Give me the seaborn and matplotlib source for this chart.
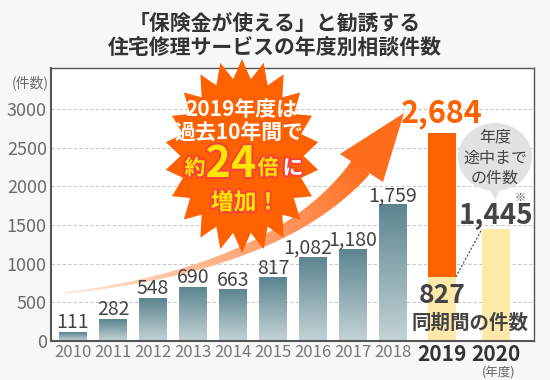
import numpy as np
import pandas as pd
import matplotlib
matplotlib.use('Agg')
import matplotlib.pyplot as plt
import matplotlib.patheffects as pe
from matplotlib.patches import Polygon, Ellipse
from matplotlib.collections import PolyCollection
from matplotlib.colors import LinearSegmentedColormap, to_rgb
import seaborn as sns

# データ
years = ['2010', '2011', '2012', '2013', '2014', '2015', '2016', '2017', '2018', '2019', '2020']
counts = [111, 282, 548, 690, 663, 817, 1082, 1180, 1759, 2684, 1445]
kinds = ['past'] * 9 + ['2019', '2020']
same_period_2019 = 827
yticks = [0, 500, 1000, 1500, 2000, 2500, 3000]

# レイアウト（棒の位置、2019・2020は少し間隔を空ける）
x_pos = [0, 1, 2, 3, 4, 5, 6, 7, 8, 9.22, 10.57]
label_dx = [0, 0, 0, 0, 0, 0, -3.5, 0, 0]  # 1,082 と 1,180 が重ならないよう少しずらす

W, H = 550, 380
sns.set_theme(style='white')
plt.rcParams['font.family'] = ['Noto Sans CJK JP', 'DejaVu Sans']
NUM = ['Liberation Sans Narrow', 'Noto Sans CJK JP']


def fpx(x, y):
    """画像のピクセル座標 -> figure座標"""
    return (x / W, 1 - y / H)


fig = plt.figure(figsize=(W / 100, H / 100), dpi=100, facecolor='#f7f7f7')
ax = fig.add_axes([51 / W, 1 - 341 / H, 483 / W, 273 / H])
ax.set_facecolor('white')

df = pd.DataFrame({'pos': x_pos, 'count': counts, 'kind': kinds})
df = pd.concat([df, pd.DataFrame({'pos': [x_pos[9]], 'count': [same_period_2019], 'kind': ['same']})],
               ignore_index=True)
palette = {'past': '#7d9ea5', '2019': '#ff6000', '2020': '#fde9a8', 'same': '#fde9a8'}
sns.barplot(data=df, x='pos', y='count', hue='kind', hue_order=['past', '2019', '2020', 'same'],
            palette=palette, native_scale=True, width=0.7, dodge=False, legend=False,
            saturation=1, linewidth=0, ax=ax, zorder=2)

# 過去の棒はグラデーション
cmap = LinearSegmentedColormap.from_list('g', ['#c4d3d6', '#5c8590'])
grad = np.linspace(1, 0, 256).reshape(-1, 1)
for p in ax.containers[0]:
    x0, y0 = p.get_x(), p.get_y()
    ax.imshow(grad, cmap=cmap, extent=[x0, x0 + p.get_width(), y0, y0 + p.get_height()],
              aspect='auto', zorder=2.1)
    p.set_facecolor('none')

ax.set_xlim(-0.55, 11.525)
ax.set_ylim(0, 3530)
ax.set_yticks(yticks)
ax.yaxis.grid(True, color='#c9c9c9', linestyle=(0, (3, 2)), linewidth=0.8)
ax.set_axisbelow(True)
for s in ax.spines.values():
    s.set_color('#555555')
    s.set_linewidth(1.0)
ax.spines['left'].set_linewidth(1.5)
ax.spines['bottom'].set_linewidth(1.5)
ax.set_xlabel('')
ax.set_ylabel('')

ax.tick_params(axis='y', length=0, pad=3, labelsize=13, labelcolor='#6b6b6b')
for lab in ax.get_yticklabels():
    lab.set_family(NUM)
ax.set_xticks(x_pos, years)
ax.tick_params(axis='x', length=0, pad=2, labelsize=12, labelcolor='#777777')
for i, lab in enumerate(ax.get_xticklabels()):
    lab.set_family(NUM)
    if i >= 9:
        lab.set_fontsize(15)
        lab.set_fontweight('bold')
        lab.set_color('#333333')

# 数値ラベル
for i in range(9):
    ax.annotate(f'{counts[i]:,}', (x_pos[i], counts[i]), xytext=(label_dx[i], 3),
                textcoords='offset points', ha='center', va='baseline', fontsize=14,
                color='#444444', family=NUM, zorder=4)
ax.annotate(f'{counts[9]:,}', (x_pos[9], counts[9]), xytext=(0, 8), textcoords='offset points',
            ha='center', va='baseline', fontsize=22, fontweight='bold', color='#ff6000', family=NUM)
ax.annotate(f'{same_period_2019:,}', (x_pos[9], same_period_2019), xytext=(0, -19),
            textcoords='offset points', ha='center', va='baseline', fontsize=19,
            fontweight='bold', color='#444444', family=NUM, zorder=5)
ax.annotate(f'{counts[10]:,}', (x_pos[10], counts[10]), xytext=(0, 4), textcoords='offset points',
            ha='center', va='baseline', fontsize=20, fontweight='bold', color='#444444', family=NUM)
ax.plot([x_pos[9] + 0.35, x_pos[10] - 0.35], [same_period_2019, counts[10]],
        color='#444444', linestyle=(0, (2, 1.5)), linewidth=0.8, zorder=4)

fig.text(*fpx(470, 323), '同期間の件数', ha='center', va='center', fontsize=14,
         fontweight='bold', color='#444444', zorder=8)
fig.text(*fpx(30, 83), '(件数)', ha='center', va='center', fontsize=10, color='#6b6b6b')
fig.text(*fpx(499, 373), '(年度)', ha='center', va='center', fontsize=9, color='#666666')

# タイトル
fig.text(*fpx(275, 23), '「保険金が使える」と勧誘する', ha='center', va='center',
         fontsize=15, fontweight='bold', color='#333333')
fig.text(*fpx(275, 48), '住宅修理サービスの年度別相談件数', ha='center', va='center',
         fontsize=15, fontweight='bold', color='#333333')

# 矢印（グラデーション）: 棒より前、数値ラベルより後ろ
p0, p1, p2 = np.array([65, 293]), np.array([280, 268]), np.array([361, 167])
t = np.linspace(0, 1, 70)
pts = ((1 - t) ** 2)[:, None] * p0 + (2 * (1 - t) * t)[:, None] * p1 + (t ** 2)[:, None] * p2
d = np.gradient(pts, axis=0)
nrm = np.stack([-d[:, 1], d[:, 0]], axis=1)
nrm /= np.linalg.norm(nrm, axis=1)[:, None]
wid = 1 + 21 * t ** 1.4
c0, c1 = np.array(to_rgb('#fde6da')), np.array(to_rgb('#ff6c1c'))
verts, cols = [], []
for i in range(len(t) - 1):
    a0 = pts[i] + nrm[i] * wid[i] / 2
    b0 = pts[i] - nrm[i] * wid[i] / 2
    a1 = pts[i + 1] + nrm[i + 1] * wid[i + 1] / 2
    b1 = pts[i + 1] - nrm[i + 1] * wid[i + 1] / 2
    verts.append([fpx(*a0), fpx(*a1), fpx(*b1), fpx(*b0)])
    k = t[i] ** 0.9
    cols.append(tuple(c0 + (c1 - c0) * k))
ax.add_artist(PolyCollection(verts, facecolors=cols, edgecolors=cols, linewidths=0.4,
                             transform=fig.transFigure, zorder=2.5, clip_on=False))
ax.add_artist(Polygon([fpx(404, 113), fpx(340, 154), fpx(383, 182)], closed=True,
                      facecolor='#ff6c1c', edgecolor='none', transform=fig.transFigure,
                      zorder=2.5, clip_on=False))

# 星形バッジ
cx, cy, rx, ry, n = 242, 156, 77, 97, 22
star = []
for i in range(2 * n):
    ang = np.pi / 2 + i * np.pi / n
    r = 1.0 if i % 2 == 0 else 0.8
    star.append(fpx(cx + rx * r * np.cos(ang), cy - ry * r * np.sin(ang)))
fig.add_artist(Polygon(star, closed=True, facecolor='#ff6000', edgecolor='none',
                       transform=fig.transFigure, zorder=6))
fig.text(*fpx(241, 110), '2019年度は', ha='center', va='center', fontsize=15,
         fontweight='bold', color='white', zorder=7)
fig.text(*fpx(239, 133), '過去10年間で', ha='center', va='center', fontsize=15,
         fontweight='bold', color='white', zorder=7)
glow = [pe.withStroke(linewidth=3, foreground='#f5453a')]
fig.text(*fpx(195, 168), '約', ha='center', va='center', fontsize=15, fontweight='bold',
         color='#ffe600', path_effects=glow, zorder=7)
fig.text(*fpx(231, 164), '24', ha='center', va='center', fontsize=31, fontweight='bold',
         color='#ffe600', path_effects=glow, zorder=7, family=['Noto Sans CJK JP'])
fig.text(*fpx(268, 168), '倍', ha='center', va='center', fontsize=15, fontweight='bold',
         color='#ffe600', path_effects=glow, zorder=7)
fig.text(*fpx(293, 168), 'に', ha='center', va='center', fontsize=15, fontweight='bold',
         color='white', path_effects=glow, zorder=7)
fig.text(*fpx(245, 203), '増加！', ha='center', va='center', fontsize=16.5, fontweight='bold',
         color='#ffe600', path_effects=glow, zorder=7)

# 吹き出し
fig.add_artist(Ellipse(fpx(495, 157), 74 / W, 68 / H, facecolor='#e2e2e2', edgecolor='none',
                       transform=fig.transFigure, zorder=6))
fig.add_artist(Polygon([fpx(488, 186), fpx(502, 186), fpx(495, 200)], closed=True,
                       facecolor='#e2e2e2', edgecolor='none', transform=fig.transFigure, zorder=6))
fig.text(*fpx(495, 137), '年度', ha='center', va='center', fontsize=11.5, color='#444444', zorder=7)
fig.text(*fpx(495, 158), '途中まで', ha='center', va='center', fontsize=11.5, color='#444444', zorder=7)
fig.text(*fpx(495, 178), 'の件数', ha='center', va='center', fontsize=11.5, color='#444444', zorder=7)
fig.text(*fpx(520, 198), '※', ha='center', va='center', fontsize=8, color='#555555', zorder=7)

fig.savefig('out.png', dpi=100, facecolor=fig.get_facecolor())
